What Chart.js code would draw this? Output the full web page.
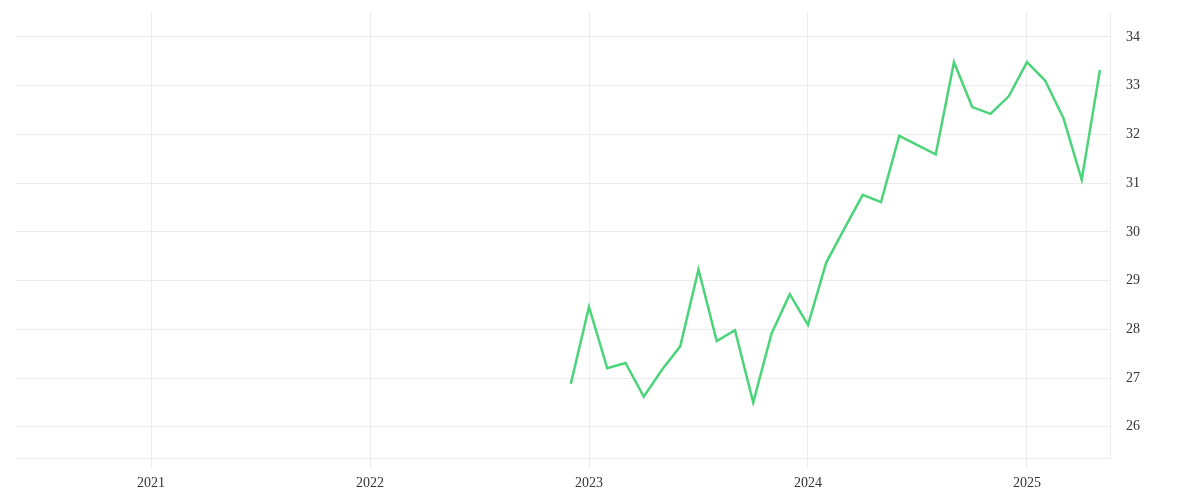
<!DOCTYPE html>
<html>
<head>
<meta charset="utf-8">
<script src="https://cdn.jsdelivr.net/npm/chart.js@4/dist/chart.umd.min.js"></script>
<style>
  html, body { margin: 0; padding: 0; background: #fff; }
  #wrap { width: 1200px; height: 500px; }
</style>
</head>
<body>
<div id="wrap"><canvas id="chart-1"></canvas></div>
<script>
// months counted from Jan 2020 (0 = Jan 2020)
const startMonth = 35; // Dec 2022
const values = [
  26.88, 28.46, 27.20, 27.31, 26.62, 27.17, 27.65, 29.23, 27.76, 27.98,
  26.50, 27.91, 28.72, 28.09, 29.37, 30.07, 30.76, 30.61, 31.97, 31.78,
  31.59, 33.48, 32.56, 32.42, 32.78, 33.48, 33.10, 32.33, 31.07, 33.32
];
const yearTicks = [2021, 2022, 2023, 2024, 2025];
const yTicks = [26, 27, 28, 29, 30, 31, 32, 33, 34];

const points = values.map((v, i) => ({ x: startMonth + i, y: v }));

Chart.defaults.font.family = "'Liberation Serif', serif";
Chart.defaults.font.size = 14;
Chart.defaults.color = '#333';

const ctx1 = document.getElementById("chart-1").getContext("2d");
const myChart = new Chart(ctx1, {
  type: "line",
  data: {
    datasets: [{
      data: points,
      borderColor: 'rgb(76, 212, 122)',
      borderWidth: 2.5,
      pointRadius: 0,
      tension: 0,
      fill: false
    }]
  },
  options: {
    responsive: true,
    maintainAspectRatio: false,
    animation: false,
    layout: { padding: { left: 16, top: 12, right: 0, bottom: 0 } },
    plugins: {
      legend: { display: false },
      tooltip: { enabled: false }
    },
    scales: {
      x: {
        type: 'linear',
        min: 4.6,
        max: 64.55,
        afterBuildTicks: (scale) => {
          scale.ticks = yearTicks.map(y => ({ value: (y - 2020) * 12 }));
        },
        afterFit: (scale) => {
          scale.height = 42;
          scale.paddingLeft = 0;
          scale.paddingRight = 0;
        },
        ticks: {
          padding: 7,
          maxRotation: 0,
          callback: (v) => String(2020 + v / 12)
        },
        grid: { color: '#ececec', tickLength: 10, drawTicks: true },
        border: { color: '#ececec' }
      },
      y: {
        position: 'right',
        min: 25.36,
        max: 34.51,
        afterBuildTicks: (scale) => {
          scale.ticks = yTicks.map(v => ({ value: v }));
        },
        afterFit: (scale) => {
          scale.width = 90;
          scale.paddingTop = 0;
          scale.paddingBottom = 0;
        },
        ticks: { padding: 16 },
        grid: { color: '#ececec', drawTicks: false },
        border: { color: '#ececec' }
      }
    }
  }
});
</script>
</body>
</html>
